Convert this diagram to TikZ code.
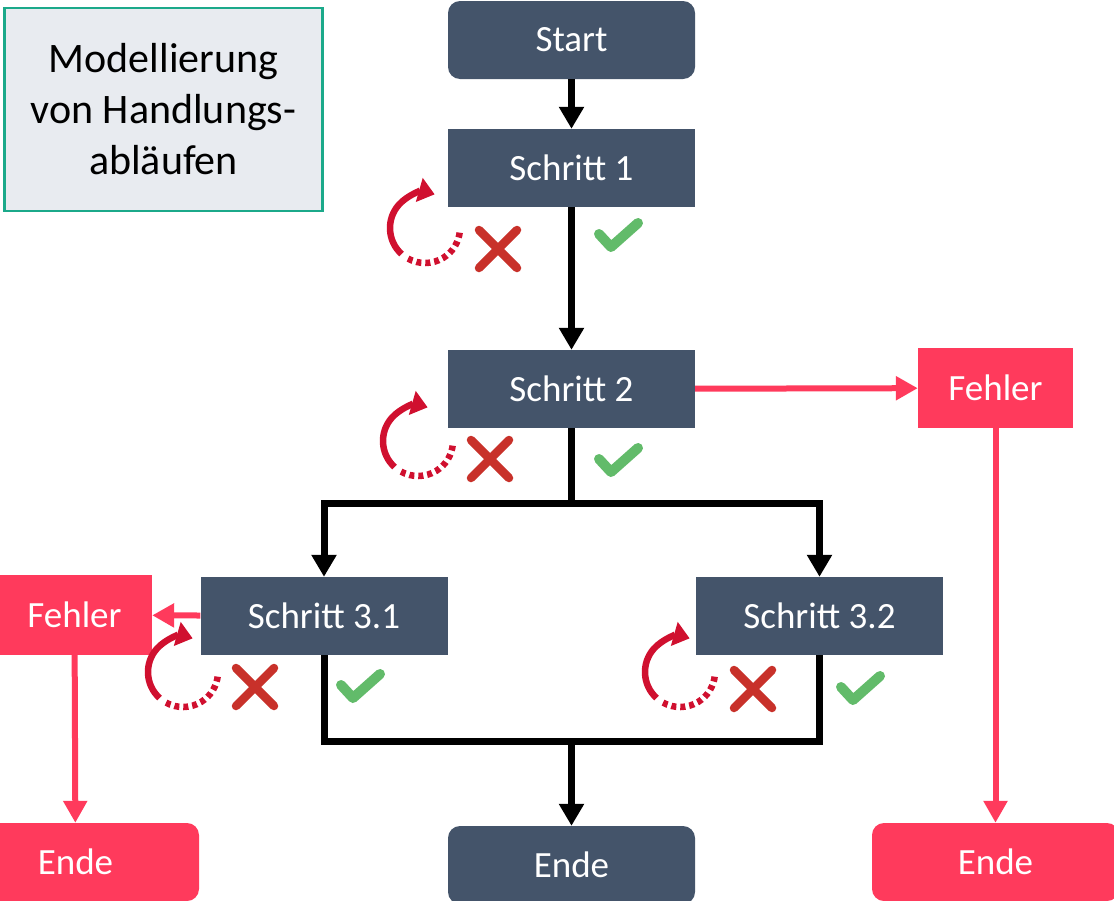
\documentclass[tikz,border=0pt]{standalone}
\usepackage{fontspec}
\setmainfont{Carlito}
\usetikzlibrary{arrows.meta}
\definecolor{boxblue}{HTML}{44546A}
\definecolor{errpink}{HTML}{FF3A5C}
\definecolor{retryred}{HTML}{D0102F}
\definecolor{crossred}{HTML}{C8312A}
\definecolor{checkgreen}{HTML}{62BB6A}
\definecolor{titlefill}{HTML}{E8EBF0}
\definecolor{titleborder}{HTML}{1BA98A}
\begin{document}
\begin{tikzpicture}[x=1pt,y=1pt,
  stepbox/.style={fill=boxblue, text=white, minimum width=247pt, minimum height=78pt, inner sep=0pt, font=\fontsize{37}{44}\selectfont},
  roundbox/.style={stepbox, rounded corners=12pt},
  errbox/.style={fill=errpink, text=white, minimum width=155pt, minimum height=80pt, inner sep=0pt, font=\fontsize{37}{44}\selectfont},
  errend/.style={errbox, minimum width=247pt, minimum height=78pt, rounded corners=12pt},
  flow/.style={draw=black, line width=7pt, -{Triangle[width=24pt,length=22pt]}},
  plainline/.style={draw=black, line width=7pt},
  errflow/.style={draw=errpink, line width=6pt, -{Triangle[width=23pt,length=22pt]}},
  retryicon/.pic={
    \draw[retryred, line width=6.5pt, -{Triangle[width=24pt,length=16pt]}]
      (228:35pt) arc[start angle=228, end angle=74, radius=35pt];
    \draw[retryred, line width=6.5pt, dash pattern=on 5pt off 4pt]
      (241:35pt) arc[start angle=241, end angle=355, radius=35pt];
  },
  crossicon/.pic={
    \draw[crossred, line width=8.5pt, line cap=round]
      (-19pt,-19pt) -- (19pt,19pt) (-19pt,19pt) -- (19pt,-19pt);
  },
  tickicon/.pic={
    \draw[checkgreen, line width=10pt, line cap=round, line join=round]
      (-19pt,2pt) -- (-7pt,-11pt) -- (20pt,13pt);
  }
]
\useasboundingbox (0,-900) rectangle (1114,0);
\begin{scope}
\clip (0,-900) rectangle (1114,0);

% title
\node[draw=titleborder, line width=2.5pt, fill=titlefill, minimum width=318pt, minimum height=203pt, inner sep=0pt, align=center, font=\fontsize{42}{51}\selectfont] (title) at (163.5,-109.5) {Modellierung\\von Handlungs-\\abläufen};

% nodes
\node[roundbox] (start) at (571.5,-40) {Start};
\node[stepbox] (s1) at (571.5,-168) {Schritt 1};
\node[stepbox] (s2) at (571.5,-389) {Schritt 2};
\node[errbox] (fehR) at (995.5,-388) {Fehler};
\node[stepbox] (s31) at (324,-616) {Schritt 3.1};
\node[stepbox] (s32) at (819.5,-616) {Schritt 3.2};
\node[errbox] (fehL) at (74.5,-615) {Fehler};
\node[errend] (endL) at (75.5,-862) {Ende};
\node[roundbox] (endC) at (571.5,-865) {Ende};
\node[errend] (endR) at (995.5,-862) {Ende};

\coordinate (j1) at (571.5,-503);
\coordinate (j2) at (571.5,-741);

% connectors
\draw[flow] (start) -- (s1);
\draw[flow] (s1) -- (s2);
\draw[plainline] (s2) -- (j1);
\draw[flow] (j1) -| (s31);
\draw[flow] (j1) -| (s32);
\draw[plainline] (s31.south) |- (j2) -| (s32.south);
\draw[flow] (j2) -- (endC);

\draw[errflow] (s2) -- (fehR);
\draw[errflow] (fehR) -- (endR);
\draw[errflow] (s31) -- (fehL);
\draw[errflow] (fehL) -- (endL);

% icons
\pic at (425,-228) {retryicon};
\pic at (498,-249) {crossicon};
\pic at (618,-236) {tickicon};

\pic at (418,-441) {retryicon};
\pic at (490,-459) {crossicon};
\pic at (618,-461) {tickicon};

\pic at (183,-672) {retryicon};
\pic at (255,-687) {crossicon};
\pic at (360,-687) {tickicon};

\pic at (680,-672) {retryicon};
\pic at (753,-689) {crossicon};
\pic at (860,-689) {tickicon};
\end{scope}
\end{tikzpicture}
\end{document}
